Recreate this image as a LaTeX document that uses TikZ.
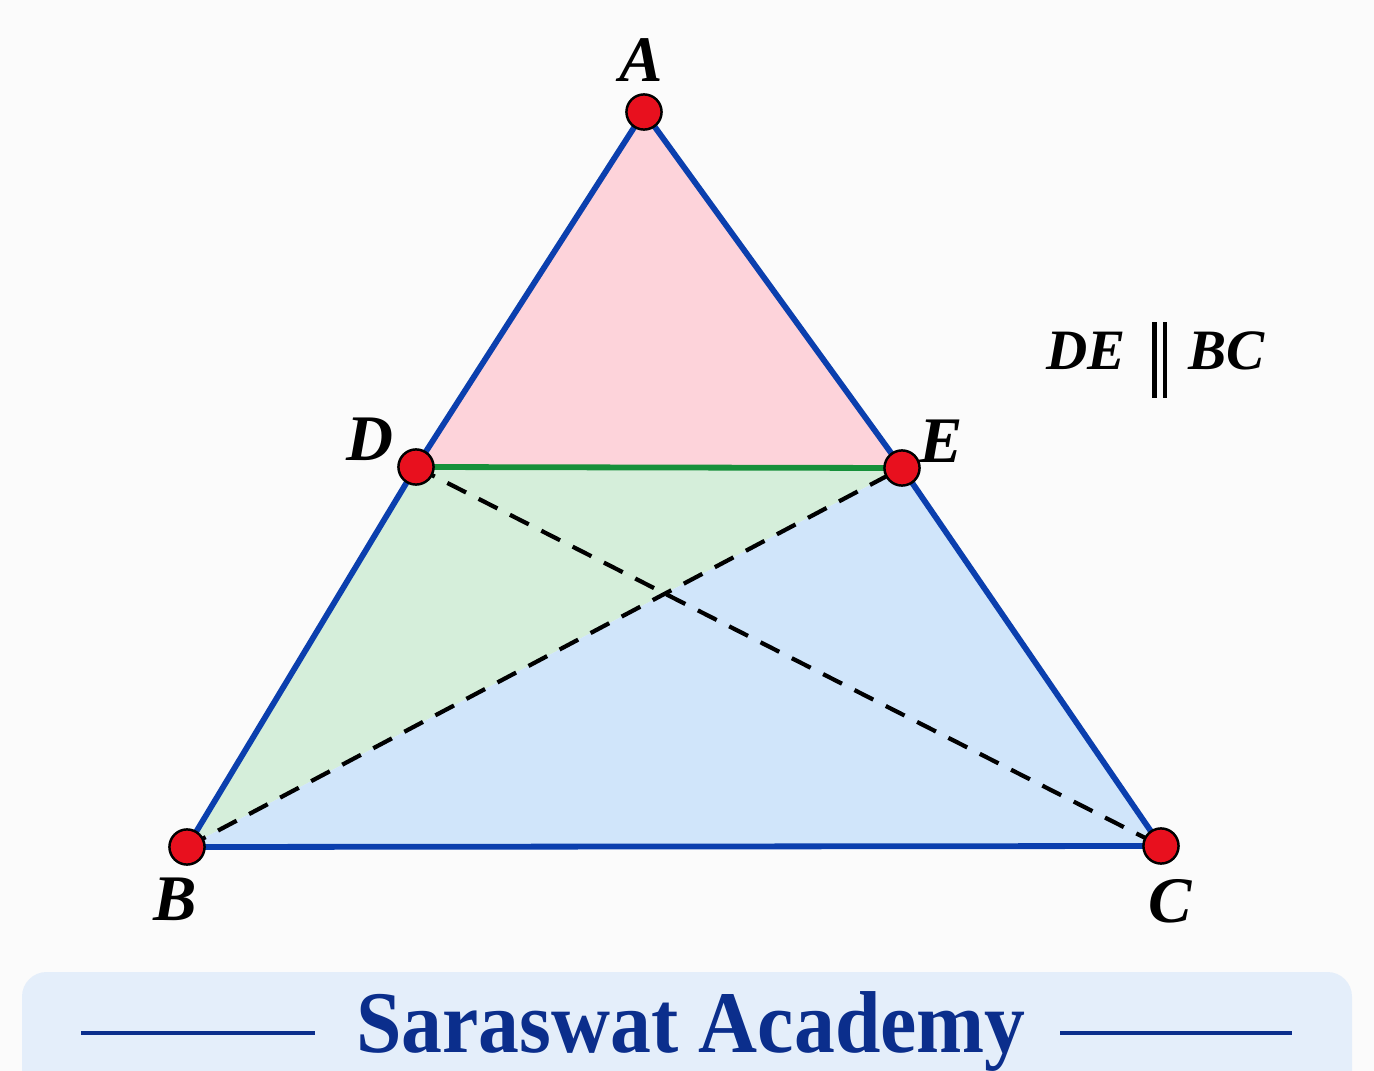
\documentclass[tikz,border=0pt]{standalone}
\usepackage{fontspec}
\setmainfont{Liberation Serif}
\definecolor{bgc}{HTML}{FBFBFB}
\definecolor{edgeblue}{HTML}{0B3FAE}
\definecolor{degreen}{HTML}{16903A}
\definecolor{pinkf}{HTML}{FDD3DA}
\definecolor{greenf}{HTML}{D5EEDA}
\definecolor{bluef}{HTML}{D0E5FA}
\definecolor{dotred}{HTML}{E8101E}
\definecolor{bannerf}{HTML}{E4EEFA}
\definecolor{navy}{HTML}{0B2E8C}
\tikzset{
  vtx/.style={circle, fill=dotred, draw=black, line width=1.4pt, minimum size=20pt, inner sep=0pt},
  vlabel/.style={anchor=base, font=\fontsize{37}{40}\selectfont\bfseries\itshape, inner sep=0pt},
  triedge/.style={edgeblue, line width=3.3pt, line join=round},
  dashln/.style={black, line width=2.4pt, dash pattern=on 12pt off 8pt},
}
\begin{document}
\begin{tikzpicture}[x=0.02cm, y=-0.02cm]
\useasboundingbox (0,0) rectangle (1374,1071);
\clip (0,0) rectangle (1374,1071);
\fill[bgc] (0,0) rectangle (1374,1071);
% banner
\fill[bannerf, rounded corners=14pt] (22,972) rectangle (1352,1120);
\coordinate (l1a) at (81,1033); \coordinate (l1b) at (315,1033);
\coordinate (l2a) at (1060,1033); \coordinate (l2b) at (1292,1033);
\draw[navy, line width=1.8pt] (l1a) -- (l1b);
\draw[navy, line width=1.8pt] (l2a) -- (l2b);
\node[anchor=base, inner sep=0pt, text=navy, font=\fontsize{50}{56}\selectfont\bfseries, xscale=0.93] (title) at (691,1052) {Saraswat Academy};
% points
\coordinate (A) at (644,112);
\coordinate (D) at (416,467);
\coordinate (E) at (902,468);
\coordinate (B) at (187,847);
\coordinate (C) at (1161,846);
% fills
\fill[pinkf] (A) -- (D) -- (E) -- cycle;
\fill[greenf] (D) -- (B) -- (E) -- cycle;
\fill[bluef] (E) -- (B) -- (C) -- cycle;
% dashed diagonals
\draw[dashln] (D) -- (C);
\draw[dashln] (B) -- (E);
% edges
\draw[degreen, line width=3.3pt] (D) -- (E);
\draw[triedge] (A) -- (D) -- (B) -- (C) -- (E) -- cycle;
% vertices
\node[vtx] (vA) at (A) {};
\node[vtx] (vD) at (D) {};
\node[vtx] (vE) at (E) {};
\node[vtx] (vB) at (B) {};
\node[vtx] (vC) at (C) {};
% labels
\node[vlabel] (lA) at (641,82) {A};
\node[vlabel] (lD) at (370,460) {D};
\node[vlabel] (lE) at (941,462) {E};
\node[vlabel] (lB) at (175,920) {B};
\node[vlabel] (lC) at (1170,922) {C};
\node[anchor=base west, inner sep=0pt, font=\fontsize{32.5}{36}\selectfont\bfseries\itshape] (par) at (1046,370)
  {DE\hspace{15pt}\rule[-15.9pt]{2.6pt}{43pt}\hspace{3.6pt}\rule[-15.9pt]{2.6pt}{43pt}\hspace{12pt}BC};
\end{tikzpicture}
\end{document}
